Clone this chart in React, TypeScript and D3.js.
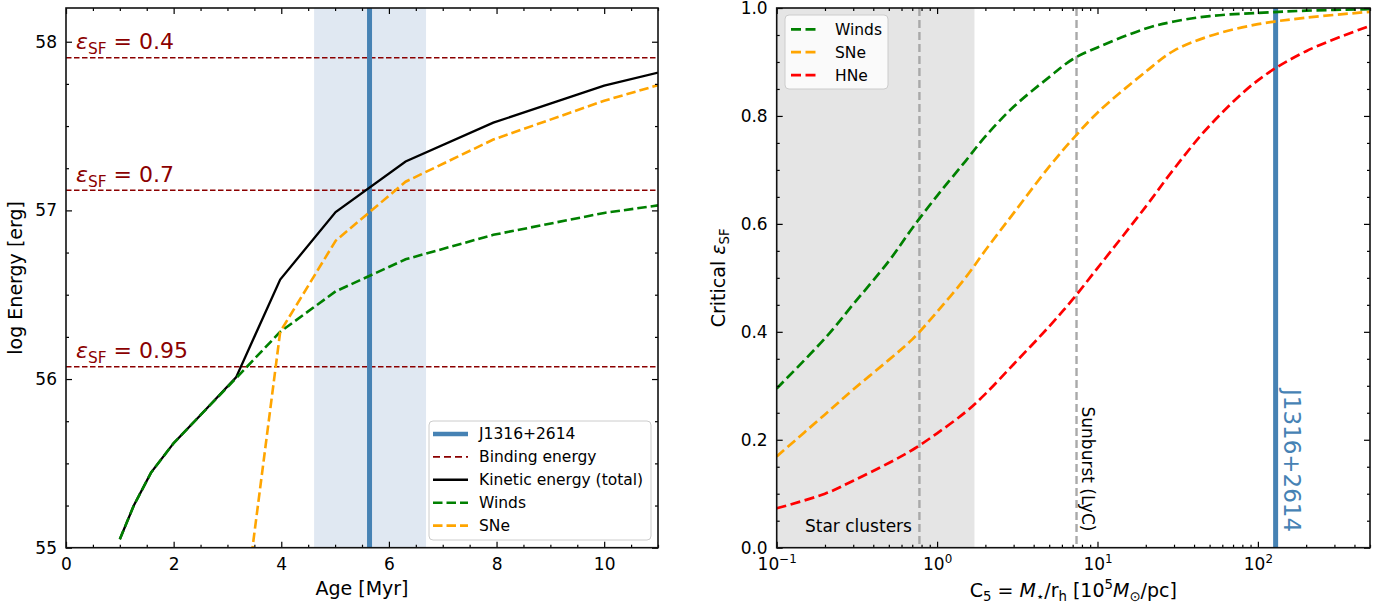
import React, { useEffect, useRef } from "react";
import * as d3 from "d3";

// ---- left panel: energy budget vs age ----
const ages = [1.0, 1.26, 1.58, 2.0, 2.51, 3.16, 3.98, 5.01, 6.31, 7.94, 10.0, 12.59];
const kineticTotal = [55.05, 55.25, 55.445, 55.62, 55.79, 56.01, 56.59, 56.99, 57.29, 57.52, 57.74, 57.94];
const windsEnergy = [55.05, 55.25, 55.445, 55.62, 55.79, 56.005, 56.28, 56.52, 56.71, 56.855, 56.985, 57.1];
const sneEnergy = [null, null, null, null, null, 54.24, 56.28, 56.82, 57.17, 57.42, 57.65, 57.89];
const bindingEps = ["0.4", "0.7", "0.95"];
const bindingEnergy = [57.905, 57.119, 56.073];
const j1316Age = 5.64;
const j1316AgeRange = [4.61, 6.69];

// ---- right panel: critical eps_SF vs compactness ----
const compactness = [0.1, 0.2, 0.3, 0.5, 0.7, 1, 1.5, 2, 3, 5, 7, 10, 20, 30, 50, 100, 200, 500];
const windsEps = [0.295, 0.388, 0.451, 0.531, 0.592, 0.652, 0.716, 0.762, 0.817, 0.872, 0.905, 0.927, 0.962, 0.975, 0.985, 0.991, 0.995, 0.998];
const sneEps = [0.169, 0.247, 0.293, 0.348, 0.386, 0.437, 0.5, 0.551, 0.62, 0.706, 0.757, 0.806, 0.882, 0.921, 0.948, 0.97, 0.982, 0.993];
const hneEps = [0.073, 0.1, 0.124, 0.157, 0.181, 0.212, 0.251, 0.285, 0.34, 0.41, 0.46, 0.518, 0.632, 0.702, 0.782, 0.866, 0.92, 0.967];
const starClusterRange = [0.1, 1.71];
const starClusterC5 = 0.776;
const sunburstC5 = 7.4;
const j1316C5 = 129;

const FONT = "DejaVu Sans";
const STEEL = "#4682B4";

type Seg = [string, string];

// mathtext-ish text: "i" italic, "sub" subscript, "sup" superscript
function richText(sel: any, segs: Seg[], fs: number) {
  let shift = 0;
  segs.forEach(([t, k]) => {
    const target = k === "sub" ? fs * 0.22 : k === "sup" ? -fs * 0.42 : 0;
    sel.append("tspan")
      .attr("dy", target - shift)
      .attr("font-size", k === "sub" || k === "sup" ? fs * 0.7 : fs)
      .attr("font-style", k === "i" ? "italic" : "normal")
      .text(t);
    shift = target;
  });
}

function styleAxis(g: any, fs = 17) {
  g.select(".domain").remove();
  g.selectAll(".tick line").attr("stroke", "#000").attr("stroke-width", 1.2);
  g.selectAll(".tick text").attr("font-family", FONT).attr("font-size", fs).attr("fill", "#000");
  return g;
}

const App = () => {
  const svgRef = useRef<SVGSVGElement>(null);

  useEffect(() => {
    const svg = d3.select(svgRef.current);
    svg.selectAll("*").remove();

    // ================= LEFT =================
    const L = { x0: 66, x1: 658, y0: 8, y1: 547.7 };
    const x = d3.scaleLinear().domain([0, 11]).range([L.x0, L.x1]);
    const y = d3.scaleLinear().domain([55, 58.2]).range([L.y1, L.y0]);

    svg.append("clipPath").attr("id", "clipL")
      .append("rect").attr("x", L.x0).attr("y", L.y0).attr("width", L.x1 - L.x0).attr("height", L.y1 - L.y0);
    const left = svg.append("g").attr("clip-path", "url(#clipL)");

    left.append("rect")
      .attr("x", x(j1316AgeRange[0])).attr("y", L.y0)
      .attr("width", x(j1316AgeRange[1]) - x(j1316AgeRange[0])).attr("height", L.y1 - L.y0)
      .attr("fill", "#e0e8f2");

    bindingEnergy.forEach((e, i) => {
      left.append("line")
        .attr("x1", L.x0).attr("x2", L.x1).attr("y1", y(e)).attr("y2", y(e))
        .attr("stroke", "#8B0000").attr("stroke-width", 1.5).attr("stroke-dasharray", "5.5,2.5");
      const t = left.append("text")
        .attr("x", 76).attr("y", y(e) - 8.5)
        .attr("font-family", FONT).attr("fill", "#8B0000");
      richText(t, [["ε", "i"], ["SF", "sub"], [" = " + bindingEps[i], ""]], 22);
    });

    left.append("line")
      .attr("x1", x(j1316Age)).attr("x2", x(j1316Age)).attr("y1", L.y0).attr("y2", L.y1)
      .attr("stroke", STEEL).attr("stroke-width", 5);

    const lineL = d3.line<any>()
      .defined(d => d[1] != null)
      .x(d => x(d[0])).y(d => y(d[1]));

    left.append("path").datum(ages.map((a, i) => [a, kineticTotal[i]]))
      .attr("d", lineL).attr("fill", "none").attr("stroke", "#000").attr("stroke-width", 2.3);
    left.append("path").datum(ages.map((a, i) => [a, windsEnergy[i]]))
      .attr("d", lineL).attr("fill", "none").attr("stroke", "green").attr("stroke-width", 2.6)
      .attr("stroke-dasharray", "9.5,4");
    left.append("path").datum(ages.map((a, i) => [a, sneEnergy[i]]))
      .attr("d", lineL).attr("fill", "none").attr("stroke", "orange").attr("stroke-width", 2.6)
      .attr("stroke-dasharray", "9.5,4");

    // axes
    const ax = svg.append("g");
    const xMinor = d3.range(0, 11.01, 0.5).filter(v => v % 2 !== 0);
    const yMinor = d3.range(55, 58.21, 0.25).filter(v => v % 1 !== 0);
    styleAxis(ax.append("g").attr("transform", `translate(0,${L.y1})`)
      .call(d3.axisBottom(x).tickValues([0, 2, 4, 6, 8, 10]).tickSizeInner(-6).tickSizeOuter(0).tickPadding(10)));
    styleAxis(ax.append("g").attr("transform", `translate(0,${L.y1})`)
      .call(d3.axisBottom(x).tickValues(xMinor).tickSizeInner(-3).tickSizeOuter(0).tickFormat(() => "")));
    styleAxis(ax.append("g").attr("transform", `translate(0,${L.y0})`)
      .call(d3.axisTop(x).tickValues([0, 2, 4, 6, 8, 10]).tickSizeInner(-6).tickSizeOuter(0).tickFormat(() => "")));
    styleAxis(ax.append("g").attr("transform", `translate(0,${L.y0})`)
      .call(d3.axisTop(x).tickValues(xMinor).tickSizeInner(-3).tickSizeOuter(0).tickFormat(() => "")));
    styleAxis(ax.append("g").attr("transform", `translate(${L.x0},0)`)
      .call(d3.axisLeft(y).tickValues([55, 56, 57, 58]).tickSizeInner(-6).tickSizeOuter(0).tickPadding(9).tickFormat(d3.format("d"))));
    styleAxis(ax.append("g").attr("transform", `translate(${L.x0},0)`)
      .call(d3.axisLeft(y).tickValues(yMinor).tickSizeInner(-3).tickSizeOuter(0).tickFormat(() => "")));
    styleAxis(ax.append("g").attr("transform", `translate(${L.x1},0)`)
      .call(d3.axisRight(y).tickValues([55, 56, 57, 58]).tickSizeInner(-6).tickSizeOuter(0).tickFormat(() => "")));
    styleAxis(ax.append("g").attr("transform", `translate(${L.x1},0)`)
      .call(d3.axisRight(y).tickValues(yMinor).tickSizeInner(-3).tickSizeOuter(0).tickFormat(() => "")));

    svg.append("rect").attr("x", L.x0).attr("y", L.y0).attr("width", L.x1 - L.x0).attr("height", L.y1 - L.y0)
      .attr("fill", "none").attr("stroke", "#111").attr("stroke-width", 1.6);

    svg.append("text").attr("x", (L.x0 + L.x1) / 2).attr("y", 595).attr("text-anchor", "middle")
      .attr("font-family", FONT).attr("font-size", 19).text("Age [Myr]");
    svg.append("text").attr("transform", `translate(22,${(L.y0 + L.y1) / 2}) rotate(-90)`).attr("text-anchor", "middle")
      .attr("font-family", FONT).attr("font-size", 19).text("log Energy [erg]");

    // left legend
    const legL = [
      { label: "J1316+2614", color: STEEL, w: 4.5, dash: null },
      { label: "Binding energy", color: "#8B0000", w: 1.8, dash: "7,4" },
      { label: "Kinetic energy (total)", color: "#000", w: 2.4, dash: null },
      { label: "Winds", color: "green", w: 2.6, dash: "9.5,4" },
      { label: "SNe", color: "orange", w: 2.6, dash: "9.5,4" },
    ];
    const lg = svg.append("g");
    lg.append("rect").attr("x", 429).attr("y", 421).attr("width", 222).attr("height", 119).attr("rx", 4)
      .attr("fill", "#fff").attr("fill-opacity", 0.8).attr("stroke", "#ccc").attr("stroke-width", 1);
    legL.forEach((d, i) => {
      const yy = 434 + i * 22.9;
      lg.append("line").attr("x1", 433).attr("x2", 468).attr("y1", yy).attr("y2", yy)
        .attr("stroke", d.color).attr("stroke-width", d.w).attr("stroke-dasharray", d.dash);
      lg.append("text").attr("x", 479).attr("y", yy).attr("dy", "0.35em")
        .attr("font-family", FONT).attr("font-size", 15.5).text(d.label);
    });

    // ================= RIGHT =================
    const R = { x0: 776.7, x1: 1370, y0: 8, y1: 547.7 };
    const xr = d3.scaleLog().domain([0.1, 500]).range([R.x0, R.x1]);
    const yr = d3.scaleLinear().domain([0, 1]).range([R.y1, R.y0]);

    svg.append("clipPath").attr("id", "clipR")
      .append("rect").attr("x", R.x0).attr("y", R.y0).attr("width", R.x1 - R.x0).attr("height", R.y1 - R.y0);
    const right = svg.append("g").attr("clip-path", "url(#clipR)");

    right.append("rect")
      .attr("x", xr(starClusterRange[0])).attr("y", R.y0)
      .attr("width", xr(starClusterRange[1]) - xr(starClusterRange[0])).attr("height", R.y1 - R.y0)
      .attr("fill", "#e5e5e5");

    [starClusterC5, sunburstC5].forEach(c => {
      right.append("line").attr("x1", xr(c)).attr("x2", xr(c)).attr("y1", R.y0).attr("y2", R.y1)
        .attr("stroke", "#a9a9a9").attr("stroke-width", 2.4).attr("stroke-dasharray", "8,4");
    });

    right.append("line").attr("x1", xr(j1316C5)).attr("x2", xr(j1316C5)).attr("y1", R.y0).attr("y2", R.y1)
      .attr("stroke", STEEL).attr("stroke-width", 5);

    const lineR = d3.line<any>().x(d => xr(d[0])).y(d => yr(d[1])).curve(d3.curveCatmullRom.alpha(0.5));
    [[windsEps, "green"], [sneEps, "orange"], [hneEps, "red"]].forEach(([vals, c]: any) => {
      right.append("path").datum(compactness.map((cc, i) => [cc, vals[i]]))
        .attr("d", lineR).attr("fill", "none").attr("stroke", c).attr("stroke-width", 2.7)
        .attr("stroke-dasharray", "10,4.5");
    });

    right.append("text").attr("x", 805).attr("y", 531.5)
      .attr("font-family", FONT).attr("font-size", 17).text("Star clusters");
    right.append("text").attr("transform", `translate(${xr(sunburstC5) + 5},406.5) rotate(90)`)
      .attr("font-family", FONT).attr("font-size", 17).text("Sunburst (LyC)");
    right.append("text").attr("transform", `translate(${xr(j1316C5) + 8},389) rotate(90)`)
      .attr("font-family", FONT).attr("font-size", 23).attr("fill", STEEL).text("J1316+2614");

    // axes
    const axr = svg.append("g");
    const decades = [0.1, 1, 10, 100];
    const logMinor: number[] = [];
    decades.forEach(dd => d3.range(2, 10).forEach(m => { if (dd * m <= 500) logMinor.push(dd * m); }));
    const yrMinor = d3.range(0, 1.001, 0.05).filter(v => Math.abs(v * 5 - Math.round(v * 5)) > 1e-6);
    const yrMajor = [0, 0.2, 0.4, 0.6, 0.8, 1.0];

    const bottomR = styleAxis(axr.append("g").attr("transform", `translate(0,${R.y1})`)
      .call(d3.axisBottom(xr).tickValues(decades).tickSizeInner(-6).tickSizeOuter(0).tickPadding(10)));
    bottomR.selectAll(".tick text").each(function (d: any) {
      const t = d3.select(this);
      t.text(null).attr("dy", null).attr("y", 22.5);
      const ex = Math.round(Math.log10(d));
      richText(t, [["10", ""], [ex < 0 ? "\u2212" + Math.abs(ex) : String(ex), "sup"]], 17);
    });
    styleAxis(axr.append("g").attr("transform", `translate(0,${R.y1})`)
      .call(d3.axisBottom(xr).tickValues(logMinor).tickSizeInner(-3).tickSizeOuter(0).tickFormat(() => "")));
    styleAxis(axr.append("g").attr("transform", `translate(0,${R.y0})`)
      .call(d3.axisTop(xr).tickValues(decades).tickSizeInner(-6).tickSizeOuter(0).tickFormat(() => "")));
    styleAxis(axr.append("g").attr("transform", `translate(0,${R.y0})`)
      .call(d3.axisTop(xr).tickValues(logMinor).tickSizeInner(-3).tickSizeOuter(0).tickFormat(() => "")));
    styleAxis(axr.append("g").attr("transform", `translate(${R.x0},0)`)
      .call(d3.axisLeft(yr).tickValues(yrMajor).tickSizeInner(-6).tickSizeOuter(0).tickPadding(9).tickFormat(d3.format(".1f"))));
    styleAxis(axr.append("g").attr("transform", `translate(${R.x0},0)`)
      .call(d3.axisLeft(yr).tickValues(yrMinor).tickSizeInner(-3).tickSizeOuter(0).tickFormat(() => "")));
    styleAxis(axr.append("g").attr("transform", `translate(${R.x1},0)`)
      .call(d3.axisRight(yr).tickValues(yrMajor).tickSizeInner(-6).tickSizeOuter(0).tickFormat(() => "")));
    styleAxis(axr.append("g").attr("transform", `translate(${R.x1},0)`)
      .call(d3.axisRight(yr).tickValues(yrMinor).tickSizeInner(-3).tickSizeOuter(0).tickFormat(() => "")));

    svg.append("rect").attr("x", R.x0).attr("y", R.y0).attr("width", R.x1 - R.x0).attr("height", R.y1 - R.y0)
      .attr("fill", "none").attr("stroke", "#111").attr("stroke-width", 1.6);

    const xl = svg.append("text").attr("x", (R.x0 + R.x1) / 2).attr("y", 597).attr("text-anchor", "middle")
      .attr("font-family", FONT);
    richText(xl, [["C", ""], ["5", "sub"], [" = ", ""], ["M", "i"], ["\u22C6", "sub"], ["/r", ""], ["h", "sub"],
      [" [10", ""], ["5", "sup"], ["M", "i"], ["\u2299", "sub"], ["/pc]", ""]], 19);
    const yl = svg.append("text").attr("transform", `translate(725,${(R.y0 + R.y1) / 2}) rotate(-90)`)
      .attr("text-anchor", "middle").attr("font-family", FONT);
    richText(yl, [["Critical ", ""], ["ε", "i"], ["SF", "sub"]], 19);

    // right legend
    const legR = [{ label: "Winds", color: "green" }, { label: "SNe", color: "orange" }, { label: "HNe", color: "red" }];
    const rg = svg.append("g");
    rg.append("rect").attr("x", 785).attr("y", 15).attr("width", 103).attr("height", 74).attr("rx", 4)
      .attr("fill", "#fff").attr("fill-opacity", 0.8).attr("stroke", "#ccc").attr("stroke-width", 1);
    legR.forEach((d, i) => {
      const yy = 29.3 + i * 22.9;
      rg.append("line").attr("x1", 791).attr("x2", 818).attr("y1", yy).attr("y2", yy)
        .attr("stroke", d.color).attr("stroke-width", 2.7).attr("stroke-dasharray", "10,4.5");
      rg.append("text").attr("x", 835).attr("y", yy).attr("dy", "0.35em")
        .attr("font-family", FONT).attr("font-size", 15.5).text(d.label);
    });
  }, []);

  return (
    <div style={{ position: "absolute", left: 0, top: 0 }}>
      <svg ref={svgRef} width={1391} height={613} style={{ display: "block", background: "#fff" }}></svg>
    </div>
  );
};

export default App;
